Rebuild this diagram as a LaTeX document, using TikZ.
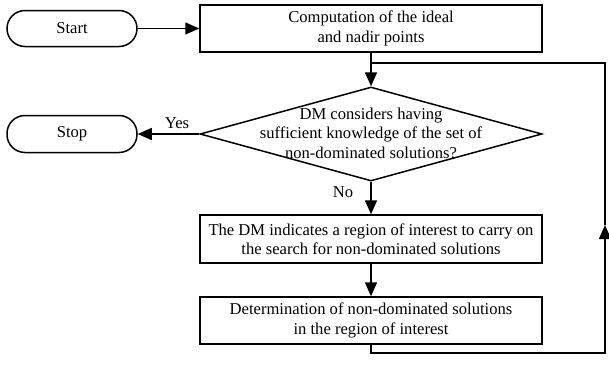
\documentclass[tikz,border=0pt]{standalone}
\usepackage{fontspec}
\setmainfont{Liberation Serif}
\usetikzlibrary{shapes.geometric,arrows.meta}
\begin{document}
\begin{tikzpicture}[x=1pt,y=-1pt,
  every node/.style={font=\fontsize{16.6}{19.5}\selectfont},
  line/.style={line width=1.5pt},
  arr/.style={line width=1.5pt,-{Triangle[length=14pt,width=12pt]}},
  term/.style={draw,line width=1.5pt,rectangle,rounded corners=18pt,minimum width=130pt,minimum height=36pt,inner sep=0pt},
  procbox/.style={draw,line width=1.5pt,rectangle,minimum width=342pt,inner sep=0pt,align=center},
  decision/.style={draw,line width=1.5pt,diamond,minimum width=342pt,minimum height=94pt,inner sep=0pt}
]
\useasboundingbox (0,0) rectangle (609,364);
\node[term] (start) at (72,28.5) {Start};
\node[term,minimum height=37pt] (stop) at (72,134) {Stop};
\node[procbox,minimum height=47pt] (comp) at (371,28.5) {Computation of the ideal\\and nadir points};
\node[decision] (dm) at (371,134) {};
\node[align=center,inner sep=0pt] (dmtext) at (371,133) {DM considers having\\sufficient knowledge of the set of\\non-dominated solutions?};
\node[procbox,minimum height=48pt] (region) at (371,239) {The DM indicates a region of interest to carry on\\the search for non-dominated solutions};
\node[procbox,minimum height=47pt] (det) at (371,320.5) {Determination of non-dominated solutions\\in the region of interest};
\coordinate (j1) at (371,63);
\coordinate (c1) at (605,353);
\coordinate (c2) at (605,225);
\coordinate (c3) at (605,63);
\node (yes) at (177,123) {Yes};
\node (no) at (343,192) {No};
\draw[arr] (start.east) -- (comp.west);
\draw[arr] (comp.south) -- (dm.north);
\draw[arr] (dm.west) -- (stop.east);
\draw[arr] (dm.south) -- (region.north);
\draw[arr] (region.south) -- (det.north);
\draw[arr] (det.south) |- (c1) -- (c2);
\draw[line] (c2) -- (c3) -- (j1);
\end{tikzpicture}
\end{document}
